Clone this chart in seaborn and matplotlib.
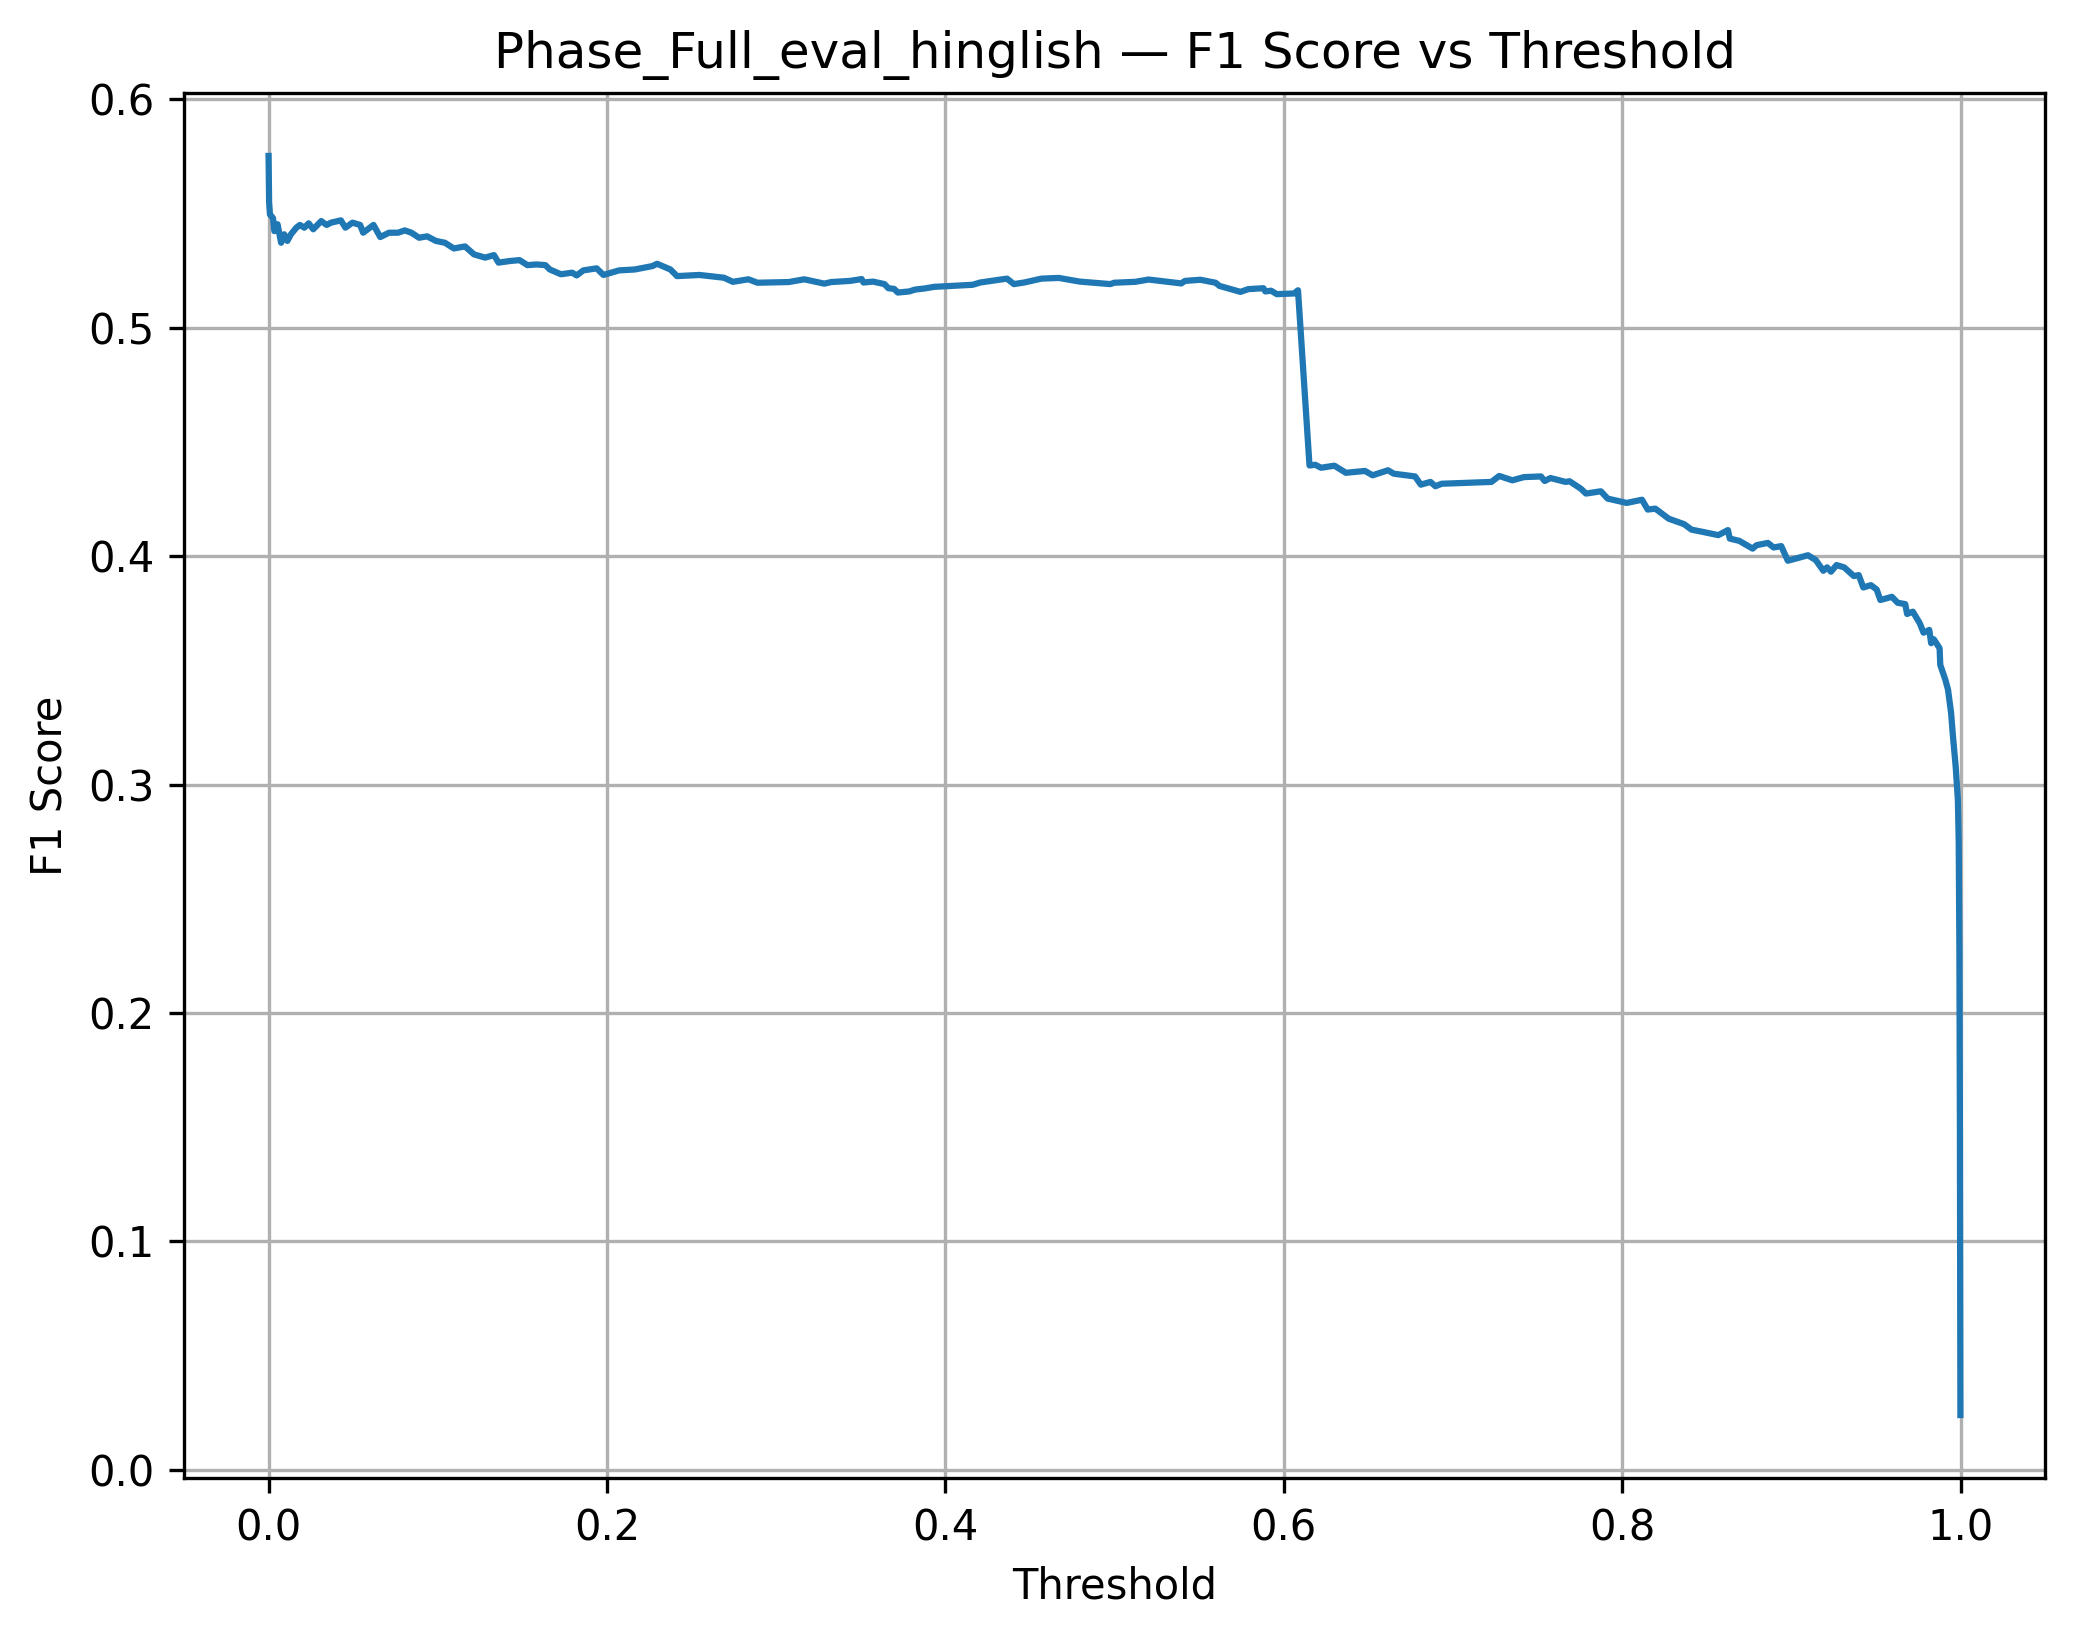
import matplotlib
matplotlib.use("Agg")
import matplotlib.pyplot as plt
import numpy as np
import pandas as pd
import seaborn as sns

# threshold / F1 points
thresholds = [
    0.0, 0.0003, 0.0008, 0.0026, 0.0034, 0.0053, 0.0074, 0.0092, 0.0111, 0.0132,
    0.0164, 0.0185, 0.0211, 0.0237, 0.0264, 0.0311, 0.0343, 0.0369, 0.0427, 0.0454,
    0.0496, 0.0541, 0.0559, 0.0620, 0.0660, 0.0712, 0.0765, 0.0805, 0.0844, 0.0889,
    0.0937, 0.0989, 0.1042, 0.1095, 0.1161, 0.1214, 0.1280, 0.1332, 0.1359, 0.1425,
    0.1483, 0.1530, 0.1583, 0.1636, 0.1662, 0.1728, 0.1794, 0.1821, 0.1860, 0.1939,
    0.1979, 0.2071, 0.2164, 0.2269, 0.2296, 0.2375, 0.2414, 0.2546, 0.2691, 0.2744,
    0.2836, 0.2889, 0.3074, 0.3166, 0.3285, 0.3325,
    0.3437, 0.3505, 0.3516, 0.3572, 0.3640, 0.3663, 0.3697, 0.3719, 0.3787, 0.3821,
    0.3878, 0.3934, 0.4161, 0.4206, 0.4364, 0.4405, 0.4466, 0.4568, 0.4670, 0.4794,
    0.4975, 0.4998, 0.5122, 0.5201, 0.5394, 0.5416, 0.5507, 0.5597, 0.5620, 0.5744,
    0.5790, 0.5880, 0.5891, 0.5925, 0.5959, 0.6061, 0.6084, 0.6152, 0.6186, 0.6220,
    0.6299, 0.6367, 0.6480, 0.6525, 0.6616, 0.6650,
    0.6776, 0.6810, 0.6867, 0.6896, 0.6933, 0.7227, 0.7273, 0.7351, 0.7419, 0.7520,
    0.7542, 0.7576, 0.7666, 0.7689, 0.7756, 0.7786, 0.7874, 0.7914, 0.8027, 0.8117,
    0.8151, 0.8196, 0.8275, 0.8366, 0.8410, 0.8478, 0.8568, 0.8625, 0.8636, 0.8692,
    0.8771, 0.8794, 0.8861, 0.8895, 0.8940, 0.8979, 0.9098, 0.9144, 0.9189, 0.9211,
    0.9234, 0.9267, 0.9312, 0.9369, 0.9398, 0.9425, 0.9470, 0.9504, 0.9526, 0.9594,
    0.9628, 0.9673, 0.9684, 0.9718, 0.9759, 0.9781, 0.9815, 0.9826, 0.9842, 0.9876,
    0.9880, 0.9910, 0.9926, 0.9944, 0.9955, 0.9971, 0.9984, 0.9989, 0.9993, 0.9996,
    0.9998, 0.9999,
]
f1_scores = [
    0.5752, 0.5550, 0.5496, 0.5480, 0.5423, 0.5453, 0.5372, 0.5409, 0.5380, 0.5409,
    0.5438, 0.5450, 0.5438, 0.5457, 0.5431, 0.5467, 0.5450, 0.5460, 0.5470, 0.5438,
    0.5460, 0.5450, 0.5416, 0.5450, 0.5397, 0.5416, 0.5416, 0.5426, 0.5416, 0.5394,
    0.5400, 0.5380, 0.5372, 0.5347, 0.5356, 0.5321, 0.5307, 0.5318, 0.5285, 0.5292,
    0.5296, 0.5274, 0.5277, 0.5274, 0.5255, 0.5234, 0.5241, 0.5229, 0.5251, 0.5260,
    0.5231, 0.5251, 0.5255, 0.5270, 0.5280, 0.5255, 0.5226, 0.5231, 0.5219, 0.5201,
    0.5212, 0.5197, 0.5200, 0.5212, 0.5193, 0.5200,
    0.5205, 0.5213, 0.5198, 0.5202, 0.5191, 0.5173, 0.5170, 0.5154, 0.5159, 0.5167,
    0.5172, 0.5179, 0.5188, 0.5198, 0.5215, 0.5191, 0.5198, 0.5215, 0.5218, 0.5202,
    0.5191, 0.5197, 0.5201, 0.5211, 0.5194, 0.5205, 0.5210, 0.5197, 0.5183, 0.5157,
    0.5169, 0.5173, 0.5159, 0.5162, 0.5147, 0.5150, 0.5164, 0.4397, 0.4400, 0.4387,
    0.4396, 0.4365, 0.4373, 0.4354, 0.4376, 0.4361,
    0.4349, 0.4313, 0.4325, 0.4306, 0.4317, 0.4325, 0.4351, 0.4332, 0.4346, 0.4349,
    0.4329, 0.4342, 0.4325, 0.4328, 0.4295, 0.4274, 0.4284, 0.4252, 0.4233, 0.4247,
    0.4204, 0.4208, 0.4164, 0.4140, 0.4116, 0.4106, 0.4092, 0.4114, 0.4077, 0.4067,
    0.4033, 0.4048, 0.4058, 0.4038, 0.4044, 0.3980, 0.4004, 0.3983, 0.3936, 0.3951,
    0.3932, 0.3961, 0.3951, 0.3913, 0.3917, 0.3863, 0.3873, 0.3854, 0.3808, 0.3822,
    0.3796, 0.3790, 0.3747, 0.3757, 0.3706, 0.3665, 0.3677, 0.3619, 0.3636, 0.3597,
    0.3524, 0.3459, 0.3415, 0.3313, 0.3211, 0.3080, 0.2934, 0.2750, 0.2280, 0.1500,
    0.0800, 0.0240,
]

df = pd.DataFrame({"threshold": thresholds, "f1": f1_scores})

fig = plt.figure(figsize=(2074 / 300, 1638 / 300), dpi=300)
ax = fig.add_axes([184 / 2074, 1 - 1478 / 1638, (2045 - 184) / 2074, (1478 - 93) / 1638])

sns.lineplot(data=df, x="threshold", y="f1", ax=ax, color="#1f77b4",
             linewidth=1.5, estimator=None, sort=False)
ax.set_title("Phase_Full_eval_hinglish — F1 Score vs Threshold")
ax.set_xlabel("Threshold")
ax.set_ylabel("F1 Score")
ax.grid(True)

fig.savefig("out.png", dpi=300)
